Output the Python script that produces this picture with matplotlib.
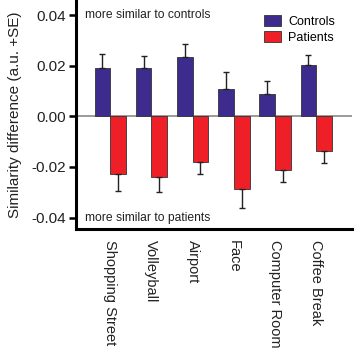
import numpy as np
import matplotlib
matplotlib.use('Agg')
from matplotlib import pyplot as plt

plt.rcParams['font.family'] = ['Liberation Sans', 'DejaVu Sans']

# data
scenes = ['Shopping Street', 'Volleyball', 'Airport', 'Face', 'Computer Room', 'Coffee Break']
controls = [0.0193, 0.0193, 0.0236, 0.0110, 0.0090, 0.0204]
controls_se = [0.0055, 0.0047, 0.0051, 0.0067, 0.0048, 0.0040]
patients = [-0.0228, -0.0240, -0.0180, -0.0287, -0.0213, -0.0138]
patients_se = [0.0066, 0.0060, 0.0046, 0.0076, 0.0047, 0.0047]

col_c = '#3d2b8e'
col_p = '#ee1f26'

fig = plt.figure(figsize=(3.55, 3.49), dpi=100)
ax = fig.add_axes([0.214, 0.344, 0.778, 0.654])

x = np.arange(len(scenes))
w = 0.38
ax.axhline(0, color='#8a8a8a', lw=1.2, zorder=1)
ax.bar(x - w/2, controls, w, color=col_c, edgecolor='#333333', lw=0.6,
       yerr=[np.zeros(6), controls_se], capsize=2.5,
       error_kw=dict(ecolor='#222222', elinewidth=1, capthick=1), label='Controls', zorder=2)
ax.bar(x + w/2, patients, w, color=col_p, edgecolor='#333333', lw=0.6,
       yerr=[patients_se, np.zeros(6)], capsize=2.5,
       error_kw=dict(ecolor='#222222', elinewidth=1, capthick=1), label='Patients', zorder=2)

ax.set_xlim(-0.83, 5.87)
ax.set_ylim(-0.0445, 0.0457)
ax.set_yticks([0.04, 0.02, 0.0, -0.02, -0.04])
ax.set_yticklabels(['0.04', '0.02', '0.00', '-0.02', '-0.04'], fontsize=11, color='#222222')
ax.set_xticks(x)
ax.set_xticklabels(scenes, rotation=-90, fontsize=10.5, color='#222222', va='top', ha='center')
ax.tick_params(axis='x', length=0, pad=8)
ax.tick_params(axis='y', length=5, width=1.8, pad=2)

for s in ['top', 'right']:
    ax.spines[s].set_visible(False)
for s in ['left', 'bottom']:
    ax.spines[s].set_linewidth(2.2)

ax.set_ylabel('Similarity difference (a.u. +SE)', fontsize=11, color='#222222', labelpad=7)

ax.text(-0.6, 0.04, 'more similar to controls', fontsize=8.7, va='center', color='#222222')
ax.text(-0.6, -0.04, 'more similar to patients', fontsize=8.7, va='center', color='#222222')

ax.legend(loc='upper left', bbox_to_anchor=(0.727, 0.975), bbox_transform=fig.transFigure,
          frameon=False, fontsize=9, borderpad=0, handlelength=1.36, handleheight=0.95,
          handletextpad=0.55, labelspacing=0.3)

fig.savefig('out.png', dpi=100)
